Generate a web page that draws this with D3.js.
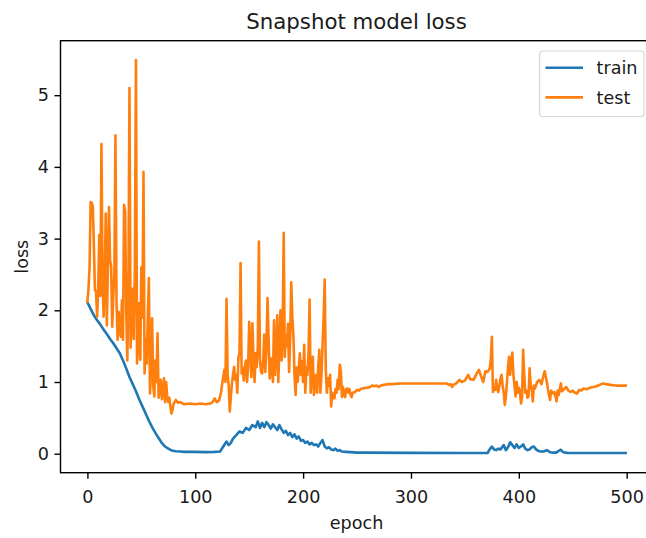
<!DOCTYPE html>
<html>
<head>
<meta charset="utf-8">
<script src="https://d3js.org/d3.v7.min.js"></script>
<style>
  body { margin: 0; background: #fff; }
  svg { display: block; font-family: "DejaVu Sans", sans-serif; }
</style>
</head>
<body>
<div id="chart"></div>
<script>
//Chart data
var title = "Snapshot model loss";
var seriesNames = ["train", "test"];
var xTicks = [0, 100, 200, 300, 400, 500];
var yTicks = [0, 1, 2, 3, 4, 5];

var trainEpoch = [0, 3, 6, 9, 12, 15, 18, 21, 24, 27, 30, 33, 36, 39, 42, 45, 48, 51, 54, 57,
    60, 63, 66, 69, 72, 75, 78, 82, 86, 90, 100, 110, 118, 123, 126, 129, 131, 133, 135, 138,
    141, 144, 147, 150, 153, 156, 158, 160, 162, 164, 166, 168, 170, 172, 174, 176, 178, 180, 182, 184,
    186, 188, 190, 192, 194, 196, 198, 200, 202, 204, 206, 208, 210, 212, 214, 216, 218, 220, 222, 224,
    226, 228, 230, 232, 234, 236, 240, 250, 260, 300, 350, 371, 373, 375, 377, 379, 381, 383, 386, 388,
    390, 392, 394, 396, 398, 400, 402, 404, 406, 408, 410, 412, 414, 416, 418, 420, 423, 426, 429, 432,
    435, 437, 439, 441, 445, 470, 499];
var trainLoss = [2.11, 2.02, 1.93, 1.86, 1.80, 1.73, 1.67, 1.60, 1.54, 1.47, 1.40, 1.30, 1.19, 1.07, 0.97, 0.87, 0.76, 0.66, 0.56, 0.46,
    0.37, 0.29, 0.22, 0.15, 0.10, 0.07, 0.045, 0.035, 0.03, 0.025, 0.025, 0.022, 0.025, 0.03, 0.10, 0.17, 0.12, 0.15, 0.21, 0.26,
    0.31, 0.29, 0.36, 0.33, 0.40, 0.37, 0.45, 0.36, 0.43, 0.37, 0.44, 0.40, 0.35, 0.41, 0.37, 0.33, 0.40, 0.34, 0.29, 0.32,
    0.26, 0.29, 0.23, 0.27, 0.21, 0.24, 0.18, 0.19, 0.15, 0.17, 0.13, 0.15, 0.12, 0.13, 0.10, 0.15, 0.19, 0.10, 0.075, 0.09,
    0.06, 0.05, 0.07, 0.04, 0.05, 0.03, 0.025, 0.015, 0.015, 0.012, 0.01, 0.01, 0.06, 0.10, 0.06, 0.05, 0.07, 0.06, 0.12, 0.05,
    0.09, 0.16, 0.12, 0.08, 0.13, 0.08, 0.10, 0.13, 0.07, 0.05, 0.06, 0.09, 0.10, 0.06, 0.04, 0.03, 0.03, 0.05, 0.02, 0.015,
    0.015, 0.04, 0.055, 0.02, 0.012, 0.01, 0.01];

var testEpoch = [0, 1, 2, 3, 4, 5, 6, 7, 8, 9, 10, 11, 12, 13, 14, 15, 16, 17, 18, 19,
    20, 21, 22, 23, 24, 25, 26, 27, 28, 29, 30, 31, 32, 33, 34, 35, 36, 37, 38, 39,
    40, 41, 42, 43, 44, 45, 46, 47, 48, 49, 50, 51, 52, 53, 54, 55, 56, 57, 58, 59,
    60, 61, 62, 63, 64, 65, 66, 67, 68, 69, 70, 71, 72, 73, 74, 75, 76, 77, 78, 79,
    80, 81, 82, 83, 84, 86, 88, 90, 95, 100, 105, 110, 114, 116, 118, 120, 122, 124, 125, 127,
    128, 129, 130, 131, 132, 133, 134, 135, 136, 137, 138, 139, 140, 141, 142, 143, 144, 145, 146, 147,
    148, 149, 150, 151, 152, 153, 154, 155, 156, 157, 158, 159, 160, 161, 162, 163, 164, 165, 166, 167,
    168, 169, 170, 171, 172, 173, 174, 175, 176, 177, 178, 179, 180, 181, 182, 183, 184, 185, 186, 187,
    188, 189, 190, 191, 192, 193, 194, 195, 196, 197, 198, 199, 200, 201, 202, 203, 204, 205, 206, 207,
    208, 209, 210, 211, 212, 213, 214, 215, 216, 217, 218, 219, 220, 221, 222, 223, 224, 225, 226, 227,
    228, 229, 230, 231, 232, 233, 234, 235, 236, 237, 238, 239, 240, 241, 242, 243, 244, 245, 246, 248,
    250, 252, 254, 256, 258, 260, 262, 264, 266, 268, 270, 272, 275, 278, 282, 290, 300, 310, 320, 330,
    333, 335, 337, 338, 340, 342, 345, 347, 350, 353, 355, 358, 361, 363, 365, 367, 369, 371, 373, 374,
    375, 376, 377, 378, 379, 380, 381, 382, 383, 384, 385, 386, 387, 388, 389, 390, 391, 392, 393, 394,
    395, 396, 397, 398, 399, 400, 401, 402, 403, 404, 405, 406, 407, 408, 409, 410, 411, 412, 413, 414,
    415, 417, 419, 421, 423, 424, 426, 427, 428, 429, 430, 431, 432, 433, 434, 435, 436, 437, 438, 439,
    440, 442, 444, 446, 448, 450, 452, 454, 456, 458, 460, 463, 466, 469, 472, 475, 478, 481, 485, 490,
    495, 499];
var testLoss = [2.12, 2.30, 2.60, 3.51, 3.50, 3.45, 2.90, 2.28, 2.26, 1.91, 2.30, 3.05, 2.20, 4.32, 2.50, 1.91, 2.40, 3.35, 1.79, 2.60,
    3.44, 2.70, 2.61, 1.77, 2.20, 2.50, 4.44, 2.10, 1.59, 1.98, 1.70, 1.63, 2.14, 1.59, 3.47, 3.38, 2.00, 1.30, 2.20, 5.10,
    1.48, 1.90, 2.30, 1.60, 2.60, 5.49, 1.26, 1.60, 2.10, 1.31, 2.60, 1.90, 3.93, 1.12, 1.60, 1.26, 1.90, 2.45, 0.84, 1.20,
    1.89, 0.95, 0.80, 1.30, 1.00, 1.68, 0.78, 0.90, 1.03, 0.76, 0.85, 1.05, 0.72, 1.00, 0.80, 0.72, 0.78, 0.65, 0.56, 0.62,
    0.70, 0.72, 0.75, 0.73, 0.71, 0.72, 0.70, 0.69, 0.70, 0.69, 0.70, 0.69, 0.70, 0.72, 0.77, 0.72, 0.74, 0.86, 0.98, 1.17,
    1.00, 2.16, 1.10, 0.96, 0.59, 0.80, 0.98, 1.10, 1.21, 1.03, 1.10, 0.85, 1.35, 1.40, 2.66, 1.12, 1.20, 1.02, 1.21, 1.30,
    1.00, 1.20, 1.84, 1.50, 1.07, 1.82, 1.30, 1.00, 1.40, 1.21, 1.50, 2.96, 1.30, 1.14, 1.12, 1.30, 1.66, 1.14, 1.50, 2.17,
    1.60, 1.05, 1.33, 1.20, 1.00, 1.86, 1.10, 1.40, 1.93, 1.00, 1.50, 2.00, 1.30, 1.60, 3.08, 1.35, 1.65, 1.50, 1.81, 1.14,
    1.60, 2.39, 1.90, 1.65, 1.10, 0.82, 1.20, 1.00, 1.20, 1.40, 1.10, 1.29, 1.00, 1.52, 0.85, 1.20, 1.10, 1.40, 2.15, 0.85,
    1.10, 1.35, 0.82, 1.00, 1.10, 0.85, 1.20, 1.45, 0.85, 1.10, 1.50, 1.90, 2.43, 1.20, 0.85, 1.05, 0.95, 1.10, 0.66, 0.85,
    0.80, 0.77, 0.90, 0.85, 1.03, 0.90, 1.24, 1.15, 0.79, 0.93, 0.83, 0.79, 0.90, 0.91, 0.85, 0.90, 0.82, 0.79, 0.85, 0.86,
    0.89, 0.88, 0.91, 0.91, 0.92, 0.92, 0.93, 0.95, 0.94, 0.95, 0.93, 0.95, 0.96, 0.97, 0.97, 0.98, 0.98, 0.98, 0.98, 0.98,
    0.98, 0.96, 0.97, 0.93, 0.97, 0.98, 1.03, 1.00, 1.02, 1.10, 1.04, 1.03, 1.12, 1.17, 1.08, 1.00, 1.15, 1.14, 1.19, 1.30,
    1.63, 0.86, 0.93, 0.89, 1.03, 0.90, 0.86, 0.95, 1.05, 1.10, 0.95, 0.85, 0.68, 0.80, 1.00, 1.22, 1.35, 1.10, 1.30, 1.41,
    1.10, 0.95, 0.80, 1.00, 0.85, 0.92, 0.88, 0.70, 0.78, 1.45, 1.10, 0.85, 0.88, 0.78, 0.80, 1.19, 0.95, 0.89, 0.73, 0.95,
    0.91, 1.00, 1.03, 0.97, 1.10, 1.15, 1.00, 0.90, 0.82, 0.75, 0.88, 0.85, 0.84, 0.86, 0.80, 0.73, 0.88, 0.82, 0.90, 0.98,
    0.87, 0.90, 0.93, 0.88, 0.86, 0.88, 0.85, 0.84, 0.89, 0.88, 0.91, 0.90, 0.92, 0.93, 0.94, 0.96, 0.98, 0.97, 0.96, 0.95,
    0.95, 0.95];

//Size of page and plot box
var width = 646;
var height = 538;
var margin = { top: 40.7, right: -6.5, bottom: 65.3, left: 60.5 };
var plotW = width - margin.left - margin.right;
var plotH = height - margin.top - margin.bottom;

var colors = ["#1f77b4", "#ff7f0e"];
var fontSize = "17.6px";

//Create SVG element
var svg = d3.select("#chart")
    .append("svg")
    .attr("width", width)
    .attr("height", height);

var g = svg.append("g")
    .attr("transform", "translate(" + margin.left + "," + margin.top + ")");

//Scales, with matplotlib style padding
var x = d3.scaleLinear()
    .domain([-24.95, 523.95])
    .range([0, plotW]);

var y = d3.scaleLinear()
    .domain([-0.265, 5.76])
    .range([plotH, 0]);

//Lines
var line = d3.line()
    .x(function(d) { return x(d[0]); })
    .y(function(d) { return y(d[1]); });

var series = [
    d3.zip(trainEpoch, trainLoss),
    d3.zip(testEpoch, testLoss)
];

series.forEach(function(s, i) {
    g.append("path")
        .datum(s)
        .attr("d", line)
        .attr("fill", "none")
        .attr("stroke", colors[i])
        .attr("stroke-width", 2.6)
        .attr("stroke-linejoin", "round")
        .attr("stroke-linecap", "square");
});

//Axes
var xAxis = g.append("g")
    .attr("transform", "translate(0," + plotH + ")")
    .call(d3.axisBottom(x).tickValues(xTicks).tickFormat(d3.format("d"))
        .tickSize(6).tickPadding(11.5).tickSizeOuter(0));

var yAxis = g.append("g")
    .call(d3.axisLeft(y).tickValues(yTicks).tickFormat(d3.format("d"))
        .tickSize(6).tickPadding(5.5).tickSizeOuter(0));

[xAxis, yAxis].forEach(function(a) {
    a.select(".domain").remove();
    a.selectAll(".tick line").attr("stroke", "#000").attr("stroke-width", 1.4);
    a.selectAll(".tick text")
        .attr("fill", "#1a1a1a")
        .style("font-size", fontSize)
        .style("font-family", "DejaVu Sans");
});

//Frame
g.append("rect")
    .attr("width", plotW)
    .attr("height", plotH)
    .attr("fill", "none")
    .attr("stroke", "#000")
    .attr("stroke-width", 1.4);

//Title and labels
svg.append("text")
    .attr("x", margin.left + plotW / 2)
    .attr("y", 28.8)
    .attr("text-anchor", "middle")
    .style("font-size", "21.3px")
    .attr("fill", "#1a1a1a")
    .text(title);

svg.append("text")
    .attr("x", margin.left + plotW / 2)
    .attr("y", 529)
    .attr("text-anchor", "middle")
    .style("font-size", fontSize)
    .attr("fill", "#1a1a1a")
    .text("epoch");

svg.append("text")
    .attr("transform", "translate(28," + (margin.top + plotH / 2) + ") rotate(-90)")
    .attr("text-anchor", "middle")
    .style("font-size", fontSize)
    .attr("fill", "#1a1a1a")
    .text("loss");

//Legend
var legend = svg.append("g")
    .attr("transform", "translate(539.5,51)");

legend.append("rect")
    .attr("width", 104.5)
    .attr("height", 65.5)
    .attr("rx", 3)
    .attr("fill", "#fff")
    .attr("fill-opacity", 0.8)
    .attr("stroke", "#d6d6d6")
    .attr("stroke-width", 1.2);

seriesNames.forEach(function(name, i) {
    var row = legend.append("g")
        .attr("transform", "translate(0," + (16.8 + i * 29.6) + ")");
    row.append("line")
        .attr("x1", 6)
        .attr("x2", 43.5)
        .attr("stroke", colors[i])
        .attr("stroke-width", 2.6);
    row.append("text")
        .attr("x", 57)
        .attr("y", 6.5)
        .style("font-size", fontSize)
        .attr("fill", "#1a1a1a")
        .text(name);
});
</script>
</body>
</html>
